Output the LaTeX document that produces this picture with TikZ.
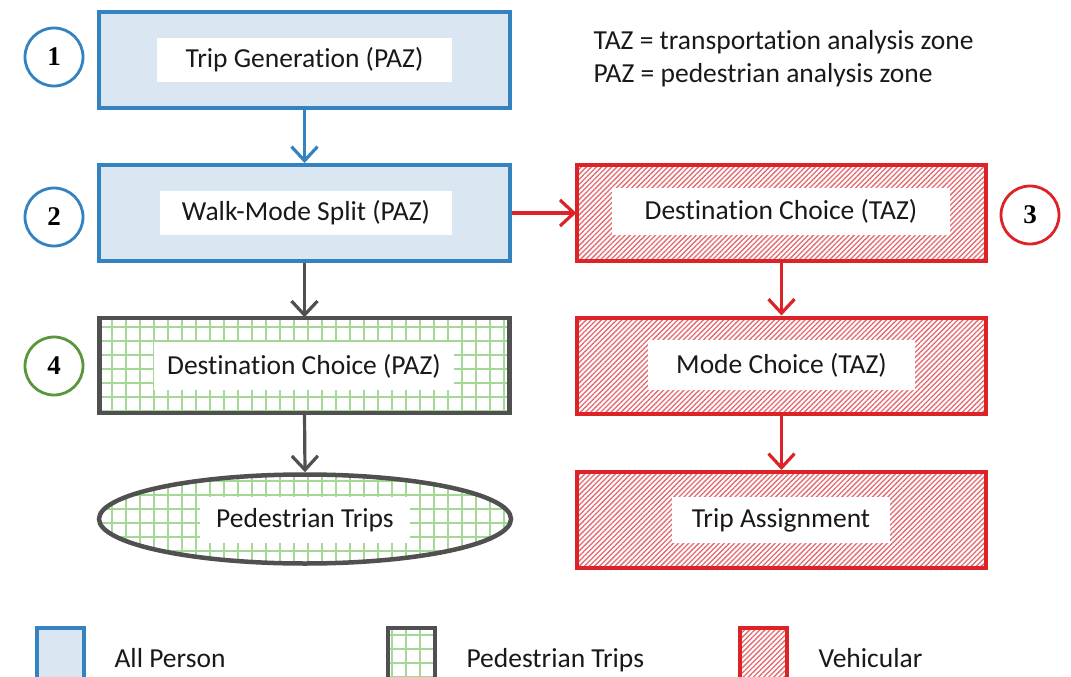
\documentclass[tikz,border=0pt]{standalone}
\usepackage{fontspec}
\setmainfont{Carlito}[Ligatures=NoCommon]
\newfontfamily\numfont{Liberation Serif}
\usetikzlibrary{arrows.meta,patterns.meta,shapes.geometric}
\definecolor{bluec}{RGB}{52,130,192}
\definecolor{bluefill}{RGB}{218,231,242}
\definecolor{redc}{RGB}{220,36,40}
\definecolor{hatchc}{RGB}{228,105,110}
\definecolor{greyc}{RGB}{80,80,80}
\definecolor{gridc}{RGB}{165,215,150}
\definecolor{greenc}{RGB}{90,150,60}
\tikzset{
  txt/.style={font=\fontsize{27.5}{32}\selectfont, text=black!90},
  allbox/.style={draw=bluec, fill=bluefill, line width=4pt, minimum width=411pt, minimum height=96pt, inner sep=0pt},
  pedbox/.style={draw=greyc, line width=4.5pt, pattern={Hatch[angle=0,distance=14pt,line width=1.3pt]}, pattern color=gridc, minimum width=410pt, minimum height=95pt, inner sep=0pt},
  vehbox/.style={draw=redc, line width=4pt, pattern={Lines[angle=45,distance=3.6pt,line width=1.3pt]}, pattern color=hatchc, minimum width=409pt, minimum height=96pt, inner sep=0pt},
  lbl/.style={txt, fill=white, inner sep=0pt},
  num/.style={circle, draw, line width=2.8pt, minimum size=58pt, inner sep=0pt, font=\numfont\bfseries\fontsize{27}{30}\selectfont},
  arr/.style={line width=3.2pt, -{Straight Barb[length=14pt,width=26pt,line width=3.2pt]}},
  leg/.style={line width=3.5pt, minimum width=47pt, minimum height=60pt, inner sep=0pt},
}
\begin{document}
\begin{tikzpicture}[x=1pt,y=-1pt]
\fill[white] (0,0) rectangle (1071,677);
\useasboundingbox (0,0) rectangle (1071,677);
% left column
\node[allbox] (b1) at (304.5,60) {};
\node[lbl, minimum width=295pt, minimum height=44pt] (t1) at (304.5,60) {Trip Generation (PAZ)};
\node[allbox] (b2) at (304.5,213) {};
\node[lbl, minimum width=292pt, minimum height=44pt] (t2) at (306,213) {Walk-Mode Split (PAZ)};
\node[pedbox] (b4) at (304.5,365.5) {};
\node[lbl, minimum width=300pt, minimum height=48pt] (t4) at (304,366) {Destination Choice (PAZ)};
\node[ellipse, draw=greyc, line width=4.5pt, pattern={Hatch[angle=0,distance=14pt,line width=1.3pt]}, pattern color=gridc, minimum width=412pt, minimum height=89pt, inner sep=0pt] (e1) at (305,519) {};
\node[lbl, minimum width=210pt, minimum height=46pt] (te) at (305,520) {Pedestrian Trips};
% right column
\node[vehbox] (b3) at (781.5,213) {};
\node[lbl, minimum width=338pt, minimum height=47pt] (t3) at (781,211) {Destination Choice (TAZ)};
\node[vehbox] (b5) at (781.5,365.5) {};
\node[lbl, minimum width=267pt, minimum height=50pt] (t5) at (781.5,365) {Mode Choice (TAZ)};
\node[vehbox] (b6) at (781.5,520) {};
\node[lbl, minimum width=218pt, minimum height=46pt] (t6) at (781,520) {Trip Assignment};
% circles
\node[num, draw=bluec] (c1) at (54,57) {1};
\node[num, draw=bluec] (c2) at (54,217) {2};
\node[num, draw=redc] (c3) at (1030,215) {3};
\node[num, draw=greenc] (c4) at (54,366) {4};
% arrows
\draw[arr, bluec] (b1.south) -- (b2.north);
\draw[arr, redc] (b2.east) -- (b3.west);
\draw[arr, greyc] (b2.south) -- (b4.north);
\draw[arr, greyc] (b4.south) -- (e1.north);
\draw[arr, redc] (b3.south) -- (b5.north);
\draw[arr, redc] (b5.south) -- (b6.north);
% notes
\node[txt, anchor=base west] (n1) at (590,49) {TAZ = transportation analysis zone};
\node[txt, anchor=base west] (n2) at (590,82) {PAZ = pedestrian analysis zone};
% legend
\node[leg, draw=bluec, fill=bluefill, anchor=north west] (l1) at (35,626) {};
\node[txt, anchor=base west] (lt1) at (111,667) {All Person};
\node[leg, draw=greyc, pattern={Hatch[angle=0,distance=14pt,line width=1.3pt]}, pattern color=gridc, anchor=north west] (l2) at (386,626) {};
\node[txt, anchor=base west] (lt2) at (463,667) {Pedestrian Trips};
\node[leg, draw=redc, pattern={Lines[angle=45,distance=3.6pt,line width=1.3pt]}, pattern color=hatchc, anchor=north west] (l3) at (738,626) {};
\node[txt, anchor=base west] (lt3) at (815,667) {Vehicular};
\end{tikzpicture}
\end{document}
